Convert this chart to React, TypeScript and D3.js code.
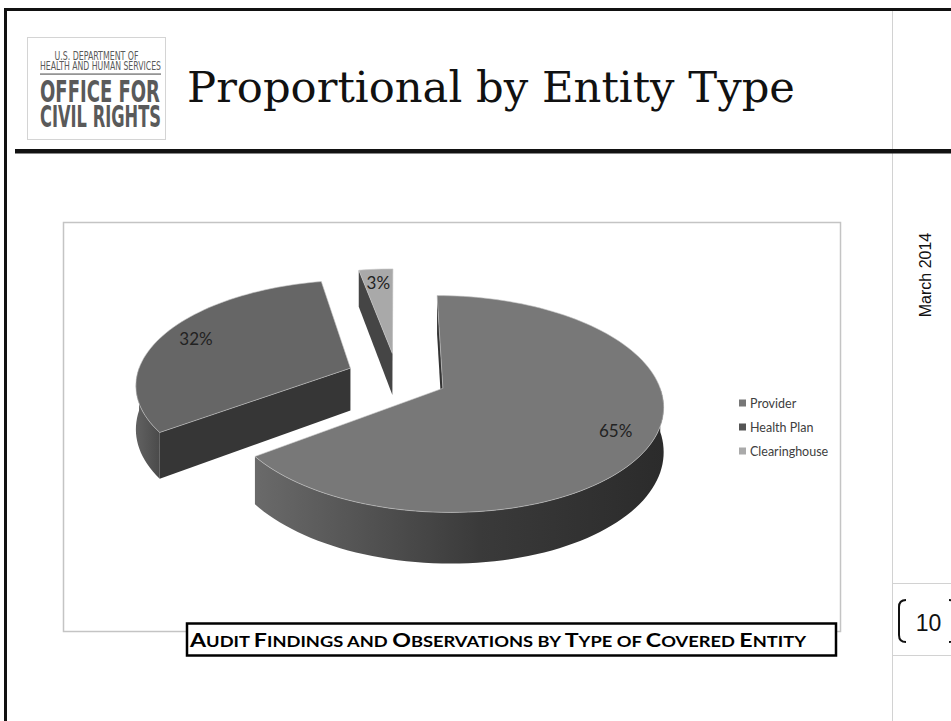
import React from 'react';
import * as d3 from 'd3';

// ---- data ----
const categories: string[] = ['Provider', 'Health Plan', 'Clearinghouse'];
const values: number[] = [65, 32, 3];
const valueLabels: string[] = ['65%', '32%', '3%'];

// ---- styles ----
const topColors = ['#787878', '#666666', '#a9a9a9'];
const sideColors = ['#333333', '#363636', '#454545'];
const wallStops = [
  ['#6a6a6a', '#3a3a3a', '#2b2b2b'],
  ['#616161', '#555555', '#4a4a4a'],
  ['#777777', '#666666', '#555555'],
];
const legendColors = ['#777777', '#555555', '#aaaaaa'];

const W = 951;
const H = 721;

// 3D pie projection parameters
const P = { cx: 397, cy: 377, rx: 214, ry: 102.9, k: 0.143, depth: 43, explode: 0.237, labelR: 0.83 };

function proj(u: number, v: number, z: number): [number, number] {
  const s = 1 / (1 - P.k * v);
  return [P.cx + P.rx * u * s, P.cy + P.ry * v * s + z * P.depth * s];
}

function poly(pts: [number, number][]): string {
  return 'M' + pts.map((p) => p[0].toFixed(2) + ',' + p[1].toFixed(2)).join('L') + 'Z';
}

function arcPts(ou: number, ov: number, a0: number, a1: number, z: number): [number, number][] {
  const n = Math.max(2, Math.ceil(((a1 - a0) / (2 * Math.PI)) * 180));
  return d3.range(n + 1).map((i) => {
    const a = a0 + ((a1 - a0) * i) / n;
    return proj(ou + Math.sin(a), ov - Math.cos(a), z);
  });
}

const captionParts: [string, boolean][] = [
  ['A', true], ['UDIT ', false], ['F', true], ['INDINGS AND ', false], ['O', true],
  ['BSERVATIONS BY ', false], ['T', true], ['YPE OF ', false], ['C', true], ['OVERED ', false],
  ['E', true], ['NTITY', false],
];

export default function App() {
  const pie = d3.pie<number>().sort(null).startAngle(0).endAngle(2 * Math.PI);
  const arcs = pie(values);

  const slices = arcs.map((a, i) => {
    const mid = (a.startAngle + a.endAngle) / 2;
    const ou = P.explode * Math.sin(mid);
    const ov = -P.explode * Math.cos(mid);
    return { a, i, mid, ou, ov };
  });
  const order = [...slices].sort((p, q) => p.ov - q.ov);

  const sliceEls = order.map(({ a, i, ou, ov }) => {
    const a0 = a.startAngle;
    const a1 = a.endAngle;
    const apexTop = proj(ou, ov, 0);
    const apexBot = proj(ou, ov, 1);
    const els: React.ReactNode[] = [];
    const w0 = Math.max(a0, Math.PI / 2);
    const w1 = Math.min(a1, (3 * Math.PI) / 2);
    let grad: React.ReactNode = null;
    if (w1 > w0) {
      const top = arcPts(ou, ov, w0, w1, 0);
      const bot = arcPts(ou, ov, w0, w1, 1).reverse();
      const xs = top.map((p) => p[0]);
      const gid = 'wall' + i;
      grad = (
        <linearGradient key={gid} id={gid} gradientUnits="userSpaceOnUse" x1={d3.min(xs)} x2={d3.max(xs)} y1={0} y2={0}>
          <stop offset="0" stopColor={wallStops[i][0]} />
          <stop offset="0.55" stopColor={wallStops[i][1]} />
          <stop offset="1" stopColor={wallStops[i][2]} />
        </linearGradient>
      );
      els.push(<path key="wall" d={poly([...top, ...bot])} fill={`url(#${gid})`} />);
    }
    const edges: [number, number][] = [
      [a0, a0 - Math.PI / 2],
      [a1, a1 + Math.PI / 2],
    ];
    edges.forEach(([ea, na], j) => {
      const nv = -Math.cos(na);
      if (nv > -0.02) {
        const eTop = proj(ou + Math.sin(ea), ov - Math.cos(ea), 0);
        const eBot = proj(ou + Math.sin(ea), ov - Math.cos(ea), 1);
        els.push(<path key={'r' + j} d={poly([apexTop, eTop, eBot, apexBot])} fill={sideColors[i]} />);
      }
    });
    const topArc = arcPts(ou, ov, a0, a1, 0);
    els.push(
      <path key="top" d={poly([apexTop, ...topArc])} fill={topColors[i]} stroke="#c8c8c8" strokeWidth={0.6} strokeLinejoin="round" />
    );
    return (
      <g key={'s' + i}>
        {grad && <defs>{grad}</defs>}
        {els}
      </g>
    );
  });

  const labelEls = slices.map(({ i, mid, ou, ov }) => {
    const [x, y] = proj(ou + P.labelR * Math.sin(mid), ov - P.labelR * Math.cos(mid), 0);
    return (
      <text key={'l' + i} x={x} y={y} textAnchor="middle" dominantBaseline="central" fontFamily="Lato, 'Open Sans', sans-serif" fontSize={17} fill="#222">
        {valueLabels[i]}
      </text>
    );
  });

  const legendY = d3.scalePoint<string>().domain(categories).range([403, 451]);

  const logoFont = "'DejaVu Sans Condensed', 'Liberation Sans Narrow', 'Liberation Sans', sans-serif";

  return (
    <svg width={W} height={H} style={{ position: 'absolute', left: 0, top: 0, background: '#fff' }}>
      <rect x={0} y={0} width={W} height={H} fill="#fff" />
      {/* slide borders */}
      <rect x={4} y={8} width={3} height={H - 8} fill="#111" />
      <rect x={4} y={8} width={W - 4} height={3} fill="#111" />
      <line x1={892.5} y1={11} x2={892.5} y2={H} stroke="#d2d2d2" strokeWidth={1} />
      <line x1={892} y1={583.5} x2={W} y2={583.5} stroke="#d2d2d2" strokeWidth={1} />
      <line x1={892} y1={655.5} x2={W} y2={655.5} stroke="#d2d2d2" strokeWidth={1} />
      <rect x={15} y={149} width={W - 15} height={4.5} fill="#121212" />

      {/* logo */}
      <rect x={27.5} y={37.5} width={138} height={102} fill="#fff" stroke="#d4d4d4" strokeWidth={1} />
      <g fill="#5a5a5a" fontFamily={logoFont}>
        <text x={96.5} y={59.5} fontSize={12} textAnchor="middle" textLength={84} lengthAdjust="spacingAndGlyphs">U.S. DEPARTMENT OF</text>
        <text x={40} y={69.5} fontSize={12} textLength={121} lengthAdjust="spacingAndGlyphs">HEALTH AND HUMAN SERVICES</text>
        <rect x={40} y={73.3} width={121} height={1.6} fill="#8a8a8a" />
        <text x={40} y={101.8} fontSize={30} fontWeight="bold" textLength={120} lengthAdjust="spacingAndGlyphs">OFFICE FOR</text>
        <text x={40} y={126.8} fontSize={30} fontWeight="bold" textLength={121} lengthAdjust="spacingAndGlyphs">CIVIL RIGHTS</text>
      </g>

      {/* title */}
      <text x={187} y={102} fontFamily="'DejaVu Serif', 'Liberation Serif', serif" fontSize={43} fill="#111" textLength={608} lengthAdjust="spacingAndGlyphs">
        Proportional by Entity Type
      </text>

      {/* right panel */}
      <text transform="translate(931,275) rotate(-90)" textAnchor="middle" fontFamily="'Liberation Sans', Arial, sans-serif" fontSize={16} fill="#111">
        March 2014
      </text>
      <path d="M906,600 Q899,600 899,607 L899,635 Q899,642 906,642" fill="none" stroke="#111" strokeWidth={2} />
      <path d="M949,600 Q956,600 956,607 L956,635 Q956,642 949,642" fill="none" stroke="#111" strokeWidth={2} />
      <text x={928.5} y={631} textAnchor="middle" fontFamily="'Liberation Sans', Arial, sans-serif" fontSize={23} fill="#111">10</text>

      {/* chart frame */}
      <rect x={63.5} y={222.5} width={777} height={409} fill="#fff" stroke="#c4c4c4" strokeWidth={1.5} />

      {sliceEls}
      {labelEls}

      {/* legend */}
      {categories.map((c, i) => (
        <g key={c}>
          <rect x={739} y={(legendY(c) as number) - 3.5} width={7} height={7} fill={legendColors[i]} />
          <text x={750} y={legendY(c) as number} dominantBaseline="central" fontFamily="Lato, 'Open Sans', sans-serif" fontSize={12.5} fill="#404040">
            {c}
          </text>
        </g>
      ))}

      {/* caption */}
      <rect x={187} y={623.5} width={649} height={32} fill="#fff" stroke="#000" strokeWidth={2.5} />
      <text x={190} y={647} fontFamily="Lato, 'Open Sans', sans-serif" fontWeight="bold" fill="#000" textLength={616} lengthAdjust="spacingAndGlyphs">
        {captionParts.map(([t, big], j) => (
          <tspan key={j} fontSize={big ? 19 : 15}>{t}</tspan>
        ))}
      </text>
    </svg>
  );
}
